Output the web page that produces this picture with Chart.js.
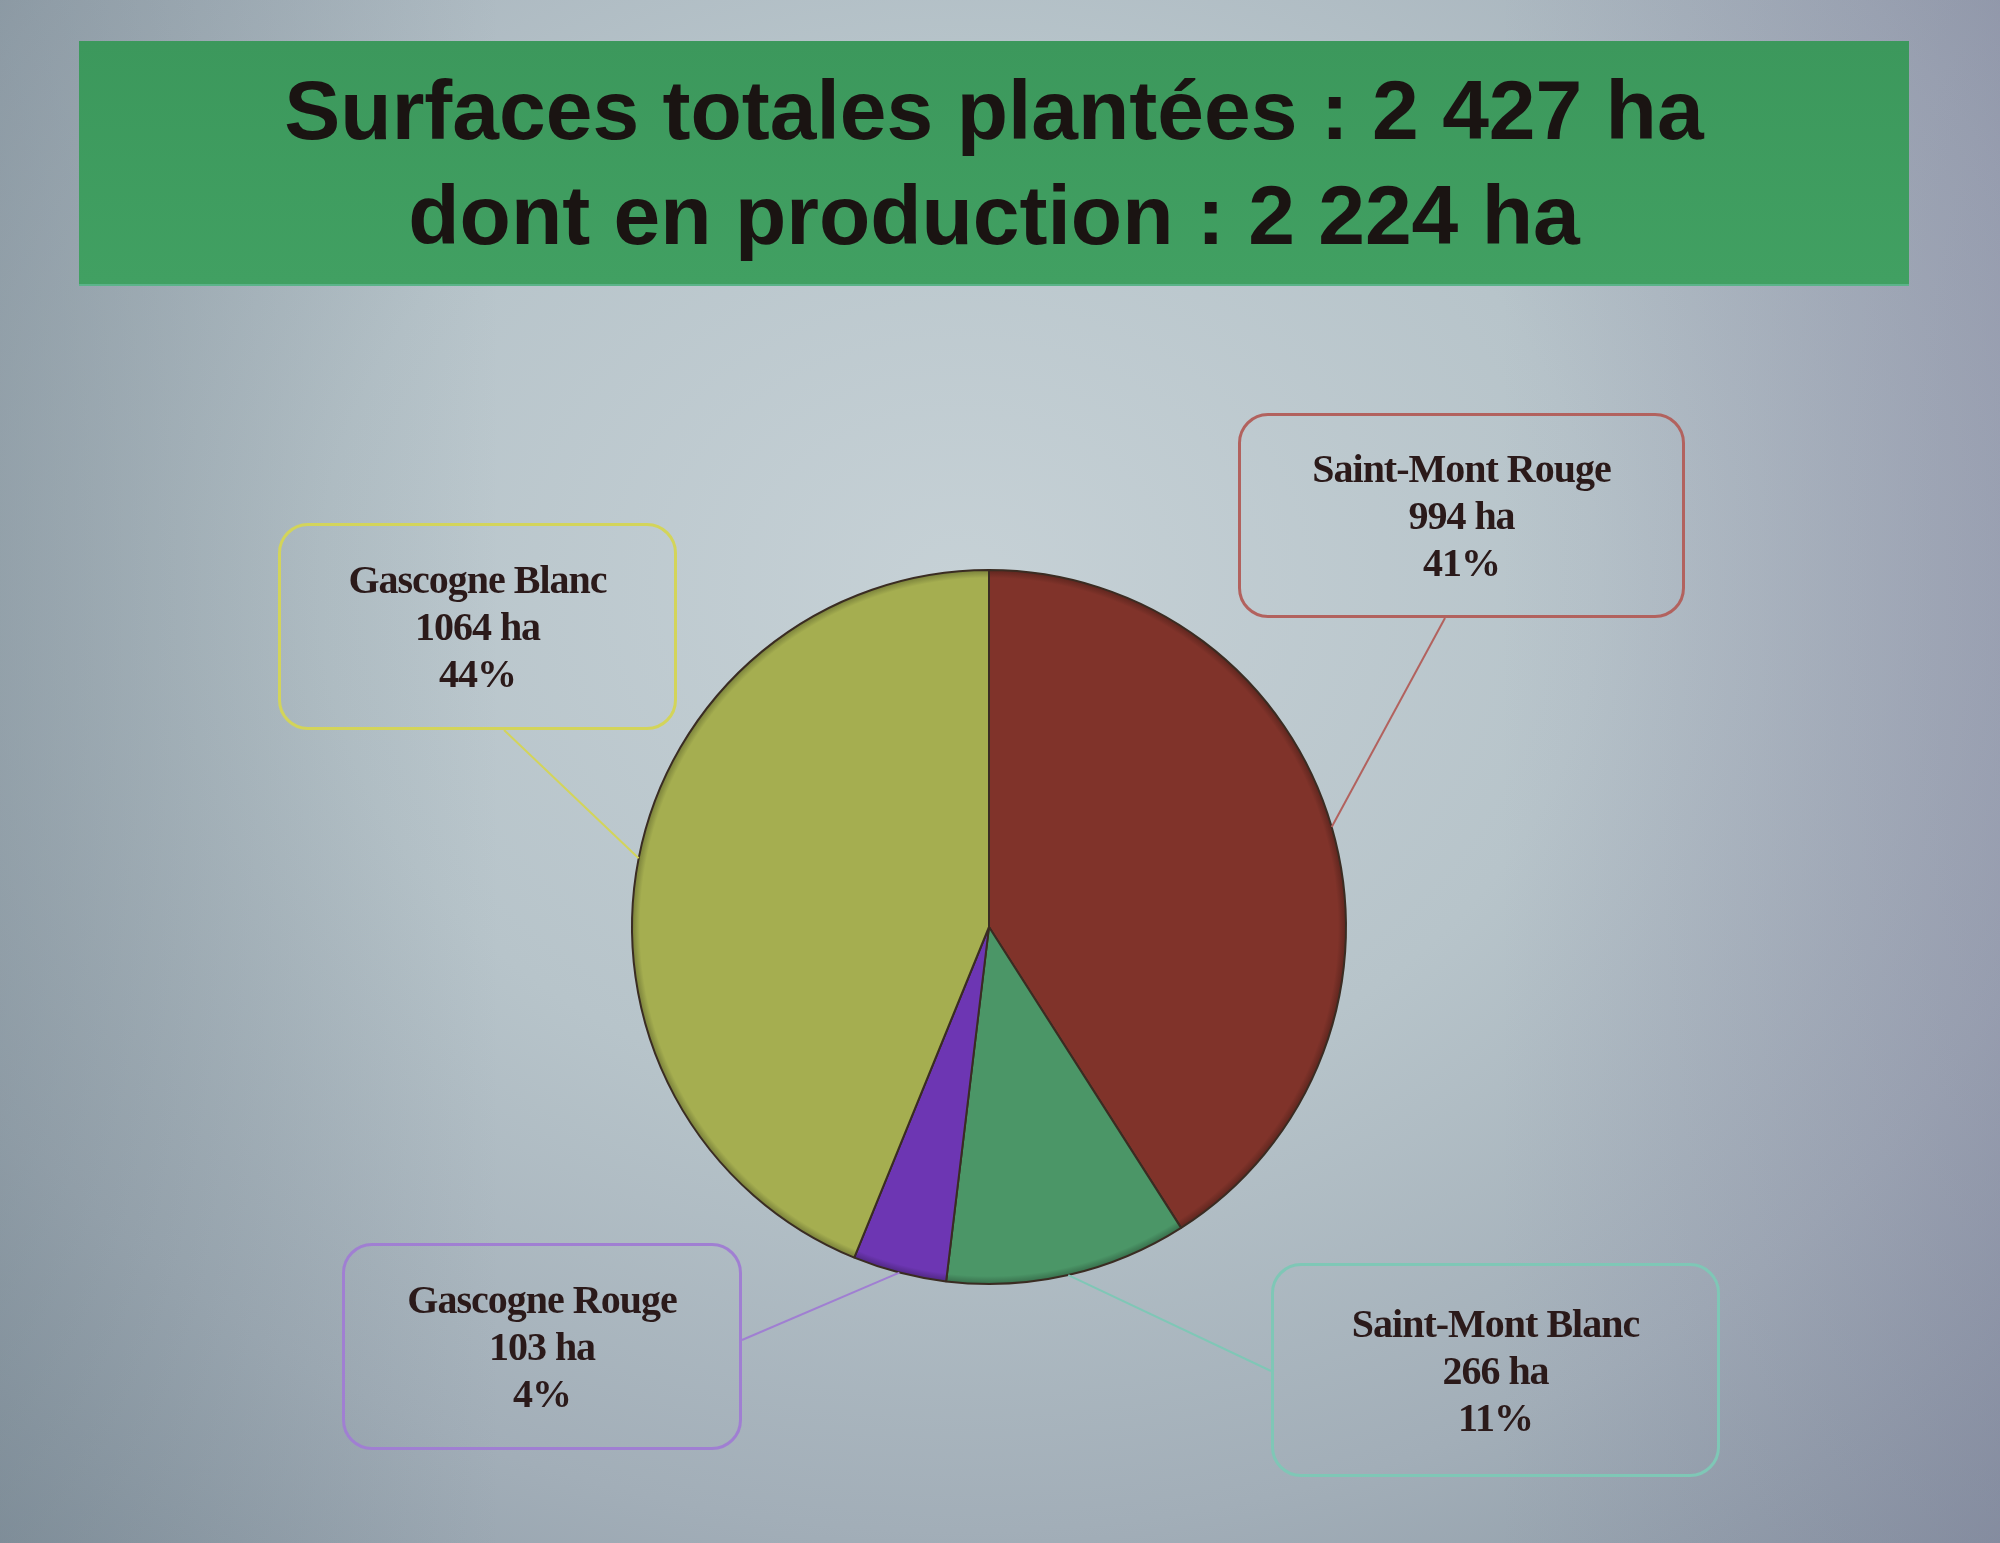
<!DOCTYPE html>
<html lang="fr">
<head>
<meta charset="utf-8">
<title>Surfaces totales plantées</title>
<script src="https://cdn.jsdelivr.net/npm/chart.js@4"></script>
<style>
  html, body { margin: 0; padding: 0; }
  body {
    width: 2000px; height: 1543px; position: relative; overflow: hidden;
    background:
      linear-gradient(90deg, rgba(95,112,122,0.30) 0%, rgba(0,0,0,0) 25%, rgba(0,0,0,0) 75%, rgba(120,112,150,0.28) 100%),
      radial-gradient(ellipse 80% 85% at 48% 38%, #c6d1d6 0%, #b7c4ca 40%, #a2aeb8 72%, #8795a1 100%);
  }
  #band {
    position: absolute; left: 79px; top: 41px; width: 1830px; height: 243px;
    background: linear-gradient(180deg, #3c985c, #41a062);
    border-bottom: 2px solid #5cb38a;
  }
  #title {
    position: absolute; left: 79px; top: 58px; width: 1830px;
    text-align: center; font-family: "Liberation Sans", Arial, sans-serif;
    font-weight: bold; font-size: 84px; line-height: 105px; color: #1a1412;
  }
  canvas { position: absolute; left: 0; top: 0; }
  .box {
    position: absolute; box-sizing: border-box; border: 3px solid; border-radius: 30px;
    font-family: "Liberation Serif", "DejaVu Serif", serif; font-weight: bold;
    font-size: 40px; line-height: 47px; color: #2b1a1a; text-align: center;
    letter-spacing: -1px; display: flex; flex-direction: column; justify-content: center;
  }
</style>
</head>
<body>
<div id="band"></div>
<div id="title">Surfaces totales plantées : 2 427 ha<br>dont en production : 2 224 ha</div>
<canvas id="pie" width="2000" height="1543"></canvas>
<div id="boxes"></div>
<script>
// ----------------------
// Données (ha)
// ----------------------
const categories = ['Saint-Mont Rouge', 'Saint-Mont Blanc', 'Gascogne Rouge', 'Gascogne Blanc'];
const surfaces = [994, 266, 103, 1064];
const sliceColors = ['#80332a', '#4b9667', '#6d36b3', '#a5ae50'];
const lineColors = ['#b2625e', '#7fc7b6', '#a07fd2', '#d3d45a'];

// position des encadrés : [left, top, width, height] + point d'attache du trait
const boxLayout = [
  { x: 1238, y: 413, w: 447, h: 205, ax: 1445, ay: 618 },
  { x: 1271, y: 1263, w: 449, h: 214, ax: 1271, ay: 1371 },
  { x: 342, y: 1243, w: 400, h: 207, ax: 742, ay: 1340 },
  { x: 278, y: 523, w: 399, h: 207, ax: 504, ay: 730 }
];

const total = surfaces.reduce((s, v) => s + v, 0);

// ----------------------
// Encadrés
// ----------------------
const boxesEl = document.getElementById('boxes');
categories.forEach((name, i) => {
  const b = boxLayout[i];
  const el = document.createElement('div');
  el.className = 'box';
  el.style.left = b.x + 'px';
  el.style.top = b.y + 'px';
  el.style.width = b.w + 'px';
  el.style.height = b.h + 'px';
  el.style.borderColor = lineColors[i];
  const pct = Math.round(surfaces[i] / total * 100);
  el.innerHTML = `<div>${name}</div><div>${surfaces[i]} ha</div><div>${pct}%</div>`;
  boxesEl.appendChild(el);
});

// ----------------------
// Traits de rappel
// ----------------------
const leaderLines = {
  id: 'leaderLines',
  afterDatasetsDraw(chart) {
    const ctx = chart.ctx;
    const arcs = chart.getDatasetMeta(0).data;
    arcs.forEach((arc, i) => {
      const mid = (arc.startAngle + arc.endAngle) / 2;
      const r = arc.outerRadius;
      const px = arc.x + Math.cos(mid) * r;
      const py = arc.y + Math.sin(mid) * r;
      ctx.save();
      ctx.strokeStyle = lineColors[i];
      ctx.lineWidth = 2;
      ctx.beginPath();
      ctx.moveTo(px, py);
      ctx.lineTo(boxLayout[i].ax, boxLayout[i].ay);
      ctx.stroke();
      ctx.restore();
    });
  }
};

// couleur assombrie pour le bord
function darken(hex, k) {
  const n = parseInt(hex.slice(1), 16);
  const r = Math.round(((n >> 16) & 255) * k);
  const g = Math.round(((n >> 8) & 255) * k);
  const b = Math.round((n & 255) * k);
  return `rgb(${r},${g},${b})`;
}

// léger relief sur le bord des parts
function sliceFill(context) {
  const base = sliceColors[context.dataIndex];
  const area = context.chart.chartArea;
  if (!area) return base;
  const cx = (area.left + area.right) / 2;
  const cy = (area.top + area.bottom) / 2;
  const r = Math.min(area.right - area.left, area.bottom - area.top) / 2;
  const g = context.chart.ctx.createRadialGradient(cx, cy, 0, cx, cy, r);
  g.addColorStop(0, base);
  g.addColorStop(0.975, base);
  g.addColorStop(1, darken(base, 0.7));
  return g;
}

new Chart(document.getElementById('pie'), {
  type: 'pie',
  data: {
    labels: categories,
    datasets: [{
      data: surfaces,
      backgroundColor: sliceFill,
      borderColor: '#3a2c22',
      borderWidth: 2
    }]
  },
  options: {
    responsive: false,
    animation: false,
    layout: { padding: { left: 631, right: 653, top: 569, bottom: 258 } },
    plugins: { legend: { display: false }, tooltip: { enabled: false } }
  },
  plugins: [leaderLines]
});
</script>
</body>
</html>
